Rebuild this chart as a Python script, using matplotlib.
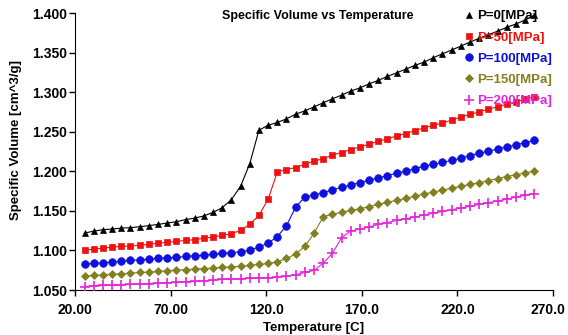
import matplotlib
matplotlib.use("Agg")
import matplotlib.pyplot as plt
import matplotlib.transforms as mtransforms
from matplotlib.lines import Line2D

plt.rcParams['font.family'] = ['Liberation Sans', 'DejaVu Sans']

# temperature [C]
temps = [25.0, 29.8, 34.6, 39.4, 44.2, 49.0, 53.8, 58.6, 63.4, 68.2,
         73.0, 77.8, 82.6, 87.4, 92.2, 97.0, 101.8, 106.6, 111.4, 116.2,
         121.0, 125.8, 130.6, 135.4, 140.2, 145.0, 149.8, 154.6, 159.4, 164.2,
         169.0, 173.8, 178.6, 183.4, 188.2, 193.0, 197.8, 202.6, 207.4, 212.2,
         217.0, 221.8, 226.6, 231.4, 236.2, 241.0, 245.8, 250.6, 255.4, 260.2]

# specific volume [cm^3/g] for each pressure
p0 = [1.1219, 1.1244, 1.1262, 1.1270, 1.1282, 1.1287, 1.1300, 1.1313, 1.1329, 1.1346,
      1.1363, 1.1389, 1.1409, 1.1436, 1.1481, 1.1540, 1.1642, 1.1810, 1.2097, 1.2519,
      1.2582, 1.2617, 1.2662, 1.2722, 1.2763, 1.2814, 1.2865, 1.2916, 1.2962, 1.3013,
      1.3054, 1.3105, 1.3148, 1.3199, 1.3244, 1.3291, 1.3338, 1.3380, 1.3435, 1.3485,
      1.3532, 1.3582, 1.3633, 1.3680, 1.3725, 1.3770, 1.3819, 1.3861, 1.3911, 1.3970]
p50 = [1.1000, 1.1017, 1.1029, 1.1042, 1.1051, 1.1055, 1.1067, 1.1076, 1.1092, 1.1101,
       1.1114, 1.1127, 1.1135, 1.1156, 1.1168, 1.1190, 1.1211, 1.1253, 1.1329, 1.1443,
       1.1646, 1.1991, 1.2022, 1.2047, 1.2089, 1.2127, 1.2161, 1.2203, 1.2237, 1.2275,
       1.2308, 1.2342, 1.2380, 1.2409, 1.2447, 1.2477, 1.2515, 1.2548, 1.2580, 1.2611,
       1.2646, 1.2687, 1.2718, 1.2751, 1.2785, 1.2814, 1.2848, 1.2877, 1.2911, 1.2941]
p100 = [1.0827, 1.0835, 1.0844, 1.0852, 1.0865, 1.0873, 1.0882, 1.0890, 1.0899, 1.0908,
        1.0911, 1.0924, 1.0933, 1.0941, 1.0951, 1.0962, 1.0971, 1.0984, 1.1000, 1.1042,
        1.1092, 1.1173, 1.1313, 1.1548, 1.1675, 1.1700, 1.1730, 1.1763, 1.1797, 1.1827,
        1.1857, 1.1886, 1.1915, 1.1945, 1.1975, 1.2000, 1.2034, 1.2063, 1.2089, 1.2112,
        1.2139, 1.2165, 1.2199, 1.2228, 1.2253, 1.2282, 1.2308, 1.2333, 1.2363, 1.2389]
p150 = [1.0675, 1.0684, 1.0692, 1.0700, 1.0705, 1.0713, 1.0722, 1.0726, 1.0734, 1.0743,
        1.0751, 1.0759, 1.0764, 1.0770, 1.0778, 1.0785, 1.0794, 1.0801, 1.0810, 1.0823,
        1.0835, 1.0857, 1.0899, 1.0953, 1.1051, 1.1215, 1.1426, 1.1460, 1.1481, 1.1506,
        1.1527, 1.1553, 1.1582, 1.1608, 1.1633, 1.1658, 1.1687, 1.1713, 1.1738, 1.1761,
        1.1789, 1.1810, 1.1835, 1.1857, 1.1882, 1.1908, 1.1933, 1.1958, 1.1978, 1.2004]
p200 = [1.0544, 1.0553, 1.0557, 1.0561, 1.0566, 1.0570, 1.0573, 1.0582, 1.0586, 1.0591,
        1.0595, 1.0604, 1.0608, 1.0616, 1.0624, 1.0633, 1.0637, 1.0642, 1.0646, 1.0649,
        1.0654, 1.0662, 1.0671, 1.0692, 1.0722, 1.0747, 1.0839, 1.0962, 1.1161, 1.1244,
        1.1270, 1.1295, 1.1329, 1.1351, 1.1380, 1.1401, 1.1422, 1.1447, 1.1470, 1.1492,
        1.1515, 1.1535, 1.1557, 1.1582, 1.1604, 1.1624, 1.1649, 1.1671, 1.1696, 1.1718]

labels = ['P=0[MPa]', 'P=50[MPa]', 'P=100[MPa]', 'P=150[MPa]', 'P=200[MPa]']
xticks = [20, 70, 120, 170, 220, 270]
xticklabels = ['20.00', '70.00', '120.0', '170.0', '220.0', '270.0']
yticks = [1.05, 1.10, 1.15, 1.20, 1.25, 1.30, 1.35, 1.40]

series = [p0, p50, p100, p150, p200]
colors = ['#000000', '#ee1111', '#1010dd', '#808020', '#e424d8']
markers = ['^', 's', 'o', 'D', '+']
msizes = [5, 5, 5.5, 4, 7]

fig = plt.figure(figsize=(5.68, 3.35), dpi=100)
ax = fig.add_axes([75 / 568, 1 - 290 / 335, 478 / 568, 277 / 335])

for vals, c, m, ms in zip(series, colors, markers, msizes):
    ax.plot(temps, vals, color=c, lw=0.8, marker=m, ms=ms,
            mew=1.2 if m == '+' else 0.5, mec=c, mfc=c, zorder=3)

ax.set_xlim(20, 270)
ax.set_ylim(1.05, 1.40)
ax.set_xticks(xticks)
ax.set_xticklabels(xticklabels)
ax.set_yticks(yticks)
ax.set_yticklabels(['%.3f' % v for v in yticks])
for lab in ax.get_xticklabels() + ax.get_yticklabels():
    lab.set_fontweight('bold')
    lab.set_fontsize(10)
ax.tick_params(axis='y', length=4, width=1, pad=2)
ax.tick_params(axis='x', length=4, width=1, pad=5)
# keep the last x label inside the figure
last = ax.get_xticklabels()[-1]
last.set_transform(last.get_transform() +
                   mtransforms.ScaledTranslation(-5 / 100, 0, fig.dpi_scale_trans))
ax.spines['top'].set_visible(False)
ax.spines['right'].set_visible(False)

ax.set_xlabel('Temperature [C]', fontsize=9.5, fontweight='bold', labelpad=4)
fig.text(16 / 568, 1 - 140 / 335, 'Specific Volume [cm^3/g]', rotation=90,
         fontsize=9.5, fontweight='bold', ha='center', va='center')
fig.text(318 / 568, 1 - 16 / 335, 'Specific Volume vs Temperature',
         fontsize=9, fontweight='bold', ha='center', va='center')

# legend: markers only, coloured bold text, drawn under the data
proxies = [Line2D([], [], ls='none', marker=m, color=c, ms=ms,
                  mew=1.2 if m == '+' else 0.5)
           for c, m, ms in zip(colors, markers, msizes)]
leg = fig.legend(proxies, labels, loc='upper left',
                 bbox_to_anchor=(456 / 568, 1 - 1 / 335),
                 frameon=False, handlelength=0.6, handletextpad=0.3,
                 labelspacing=0.68, borderpad=0.2,
                 prop={'size': 9.5, 'weight': 'bold'})
for t, c in zip(leg.get_texts(), colors):
    t.set_color(c)
leg.set_zorder(1)

fig.savefig('out.png', dpi=100)
